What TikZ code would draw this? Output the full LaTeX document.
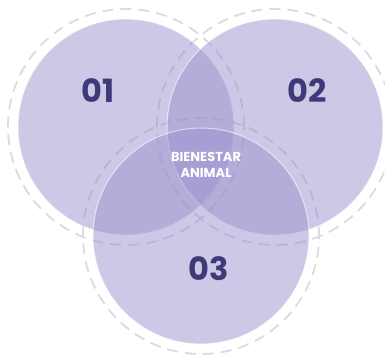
\documentclass[tikz,border=0pt]{standalone}
\usepackage{fontspec}
\setmainfont{Poppins}
\usetikzlibrary{positioning}
\definecolor{lila}{RGB}{155,145,205}
\definecolor{tinta}{HTML}{3E3A78}
\definecolor{aroc}{RGB}{220,218,222}

\begin{document}
\begin{tikzpicture}[x=1pt,y=-1pt,
  zona/.style={circle,fill=lila,fill opacity=0.5,draw=white,draw opacity=0.6,
               line width=1pt,minimum size=216pt,inner sep=0pt},
  aro/.style={circle,draw=aroc,line width=1.8pt,dash pattern=on 11pt off 7pt,
              minimum size=236pt,inner sep=0pt},
  num/.style={font=\fontsize{32}{32}\selectfont\bfseries,text=tinta},
  centro/.style={font=\fontsize{13}{16}\selectfont\bfseries,text=white,align=center}]
\useasboundingbox (0,0) rectangle (385,354);
% anillos punteados
\node[aro] (a1) at (126,127) {};
\node[aro] (a2) at (275,127) {};
\node[aro] (a3) at (201,236) {};
% circulos
\node[zona] (z1) at (a1.center) {};
\node[zona] (z2) at (a2.center) {};
\node[zona] (z3) at (a3.center) {};
\node[num] (n1) at (98,91) {01};
\node[num] (n2) at (307,91) {02};
\node[num] (n3) at (209,269) {03};
\node[centro] (bien) at (206,165) {BIENESTAR\\ANIMAL};
\end{tikzpicture}
\end{document}
